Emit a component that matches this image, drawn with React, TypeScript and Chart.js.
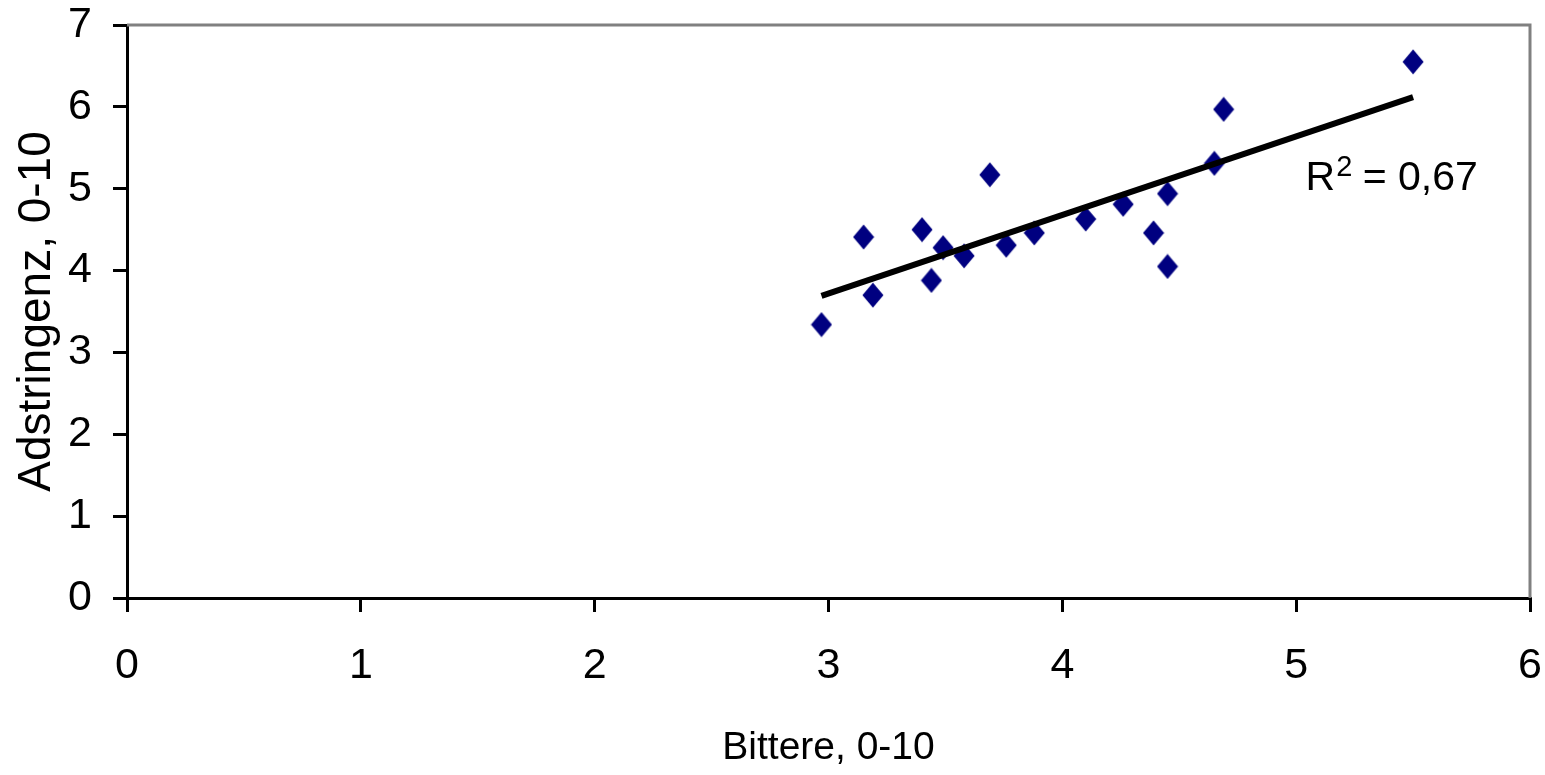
import React, { useEffect, useRef } from "react";
import { Chart, registerables } from "chart.js";

Chart.register(...registerables);

// Data
const bitterness: number[] = [2.97, 3.15, 3.19, 3.40, 3.44, 3.49, 3.58, 3.69, 3.76, 3.88, 4.10, 4.26, 4.39, 4.45, 4.45, 4.65, 4.69, 5.50];
const astringency: number[] = [3.34, 4.41, 3.70, 4.50, 3.88, 4.28, 4.18, 5.17, 4.31, 4.46, 4.63, 4.81, 4.46, 4.94, 4.05, 5.31, 5.97, 6.55];
const trendX: number[] = [2.97, 5.50];
const trendY: number[] = [3.69, 6.12];
const xTicks: number[] = [0, 1, 2, 3, 4, 5, 6];
const yTicks: number[] = [0, 1, 2, 3, 4, 5, 6, 7];
const xTitle = "Bittere, 0-10";
const yTitle = "Adstringenz, 0-10";
const r2Value = "0,67";
const r2Anchor = { x: 5.04, y: 4.99 };

const FONT = "'Liberation Sans', Arial, sans-serif";

function makeDiamond(): HTMLCanvasElement {
  const c = document.createElement("canvas");
  c.width = 22;
  c.height = 26;
  const ctx = c.getContext("2d")!;
  ctx.fillStyle = "#000080";
  ctx.beginPath();
  ctx.moveTo(11, 0.5);
  ctx.lineTo(21.5, 13);
  ctx.lineTo(11, 25.5);
  ctx.lineTo(0.5, 13);
  ctx.closePath();
  ctx.fill();
  return c;
}

export default function App() {
  const ref = useRef<HTMLCanvasElement | null>(null);

  useEffect(() => {
    if (!ref.current) return;
    const diamond = makeDiamond();

    const frame = {
      id: "frame",
      beforeDatasetsDraw(chart: any) {
        const { ctx, chartArea } = chart;
        ctx.save();
        ctx.strokeStyle = "#808080";
        ctx.lineWidth = 3;
        ctx.beginPath();
        ctx.moveTo(chartArea.left, chartArea.top);
        ctx.lineTo(chartArea.right, chartArea.top);
        ctx.lineTo(chartArea.right, chartArea.bottom);
        ctx.stroke();
        ctx.restore();
      },
    };

    const r2Label = {
      id: "r2Label",
      afterDatasetsDraw(chart: any) {
        const { ctx, scales } = chart;
        const x0 = scales.x.getPixelForValue(r2Anchor.x);
        const base = scales.y.getPixelForValue(r2Anchor.y);
        ctx.save();
        ctx.fillStyle = "#000";
        ctx.textBaseline = "alphabetic";
        ctx.textAlign = "left";
        ctx.font = `41px ${FONT}`;
        ctx.fillText("R", x0, base);
        const w1 = ctx.measureText("R").width;
        ctx.font = `29px ${FONT}`;
        ctx.fillText("2", x0 + w1 + 1, base - 14);
        const w2 = ctx.measureText("2").width;
        ctx.font = `41px ${FONT}`;
        ctx.fillText(" = " + r2Value, x0 + w1 + w2, base);
        ctx.restore();
      },
    };

    const chart = new Chart(ref.current, {
      type: "scatter",
      data: {
        datasets: [
          {
            type: "scatter",
            label: "Astringenz",
            data: bitterness.map((b, i) => ({ x: b, y: astringency[i] })),
            pointStyle: diamond as any,
            pointRadius: 11,
            backgroundColor: "#000080",
            borderColor: "#000080",
            order: 2,
          },
          {
            type: "line",
            label: "Trend",
            data: trendX.map((x, i) => ({ x, y: trendY[i] })),
            borderColor: "#000",
            borderWidth: 6,
            pointRadius: 0,
            showLine: true,
            fill: false,
            order: 1,
          } as any,
        ],
      },
      options: {
        responsive: true,
        maintainAspectRatio: false,
        animation: false,
        layout: { padding: { top: 25, right: 15, left: 0, bottom: 0 } },
        plugins: {
          legend: { display: false },
          tooltip: { enabled: false },
        },
        scales: {
          x: {
            type: "linear",
            min: xTicks[0],
            max: xTicks[xTicks.length - 1],
            afterBuildTicks: (s: any) => {
              s.ticks = xTicks.map((v) => ({ value: v }));
            },
            afterFit: (s: any) => {
              s.height = 177;
              s.paddingLeft = 0;
              s.paddingRight = 0;
            },
            ticks: {
              color: "#000",
              font: { family: FONT, size: 43, lineHeight: 1 },
              padding: 33,
              maxRotation: 0,
              callback: (v: any) => String(v),
            },
            grid: {
              drawOnChartArea: false,
              drawTicks: true,
              tickLength: 14,
              color: "#000",
              lineWidth: 3,
            },
            border: { display: true, color: "#000", width: 3 },
            title: {
              display: true,
              text: xTitle,
              color: "#000",
              font: { family: FONT, size: 39, lineHeight: 1 },
              padding: { top: 0, bottom: 7 },
            },
          },
          y: {
            type: "linear",
            min: yTicks[0],
            max: yTicks[yTicks.length - 1],
            afterBuildTicks: (s: any) => {
              s.ticks = yTicks.map((v) => ({ value: v }));
            },
            afterFit: (s: any) => {
              s.width = 127;
              s.paddingTop = 0;
              s.paddingBottom = 0;
            },
            ticks: {
              color: "#000",
              font: { family: FONT, size: 43, lineHeight: 1 },
              padding: 21,
              callback: (v: any) => String(v),
            },
            grid: {
              drawOnChartArea: false,
              drawTicks: true,
              tickLength: 14,
              color: "#000",
              lineWidth: 3,
            },
            border: { display: true, color: "#000", width: 3 },
            title: {
              display: true,
              text: yTitle,
              color: "#000",
              font: { family: FONT, size: 46, lineHeight: 1 },
              padding: { top: 14, bottom: 0 },
            },
          },
        },
      },
      plugins: [frame, r2Label],
    });

    return () => chart.destroy();
  }, []);

  return (
    <div style={{ position: "absolute", left: 0, top: 0, width: 1545, height: 775, background: "#fff" }}>
      <canvas ref={ref} />
    </div>
  );
}
